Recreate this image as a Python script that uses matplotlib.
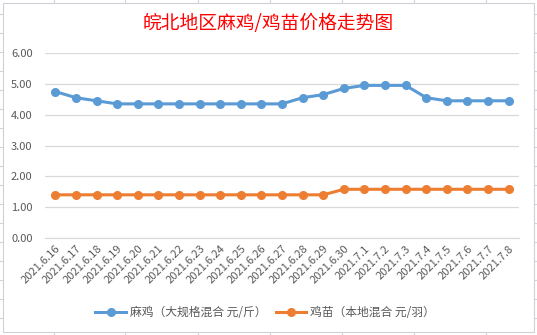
import matplotlib
matplotlib.use("Agg")
import matplotlib.pyplot as plt
from matplotlib.patches import Rectangle
from matplotlib.lines import Line2D

plt.rcParams['font.family'] = ['Noto Sans CJK SC', 'DejaVu Sans']

dates = ["2021.6.16", "2021.6.17", "2021.6.18", "2021.6.19", "2021.6.20", "2021.6.21",
         "2021.6.22", "2021.6.23", "2021.6.24", "2021.6.25", "2021.6.26", "2021.6.27",
         "2021.6.28", "2021.6.29", "2021.6.30", "2021.7.1", "2021.7.2", "2021.7.3",
         "2021.7.4", "2021.7.5", "2021.7.6", "2021.7.7", "2021.7.8"]
maji = [4.75, 4.55, 4.45, 4.35, 4.35, 4.35, 4.35, 4.35, 4.35, 4.35, 4.35, 4.35,
        4.55, 4.65, 4.85, 4.95, 4.95, 4.95, 4.55, 4.45, 4.45, 4.45, 4.45]
jimiao = [1.4, 1.4, 1.4, 1.4, 1.4, 1.4, 1.4, 1.4, 1.4, 1.4, 1.4, 1.4,
          1.4, 1.4, 1.58, 1.58, 1.58, 1.58, 1.58, 1.58, 1.58, 1.58, 1.58]
labels = ["麻鸡（大规格混合 元/斤）", "鸡苗（本地混合 元/羽）"]
title = "皖北地区麻鸡/鸡苗价格走势图"

W, H = 537, 335
fig = plt.figure(figsize=(W / 100, H / 100), dpi=100)

# spreadsheet cell lines peeking out around the chart
for x in [54, 125, 198, 270, 342, 414, 486]:
    fig.add_artist(Line2D([x / W, x / W], [0, 1], color="#D4D4DC", lw=0.8, zorder=-3))
for y in range(14, 335, 19):
    fig.add_artist(Line2D([0, 1], [1 - y / H, 1 - y / H], color="#D4D4DC", lw=0.8, zorder=-3))
fig.add_artist(Rectangle((3 / W, 3 / H), 531 / W, 329 / H, facecolor="white",
                         edgecolor="#D0D0D8", lw=0.8, zorder=-2))

ax = fig.add_axes([45 / W, 1 - 238 / H, 474 / W, 185 / H])
ax.set_facecolor("none")
x = list(range(len(dates)))
ax.plot(x, maji, color="#5B9BD5", lw=2.2, marker="o", ms=5.5, label=labels[0], zorder=3)
ax.plot(x, jimiao, color="#ED7D31", lw=2.2, marker="o", ms=5.5, label=labels[1], zorder=3)

ax.set_xlim(-0.5, len(dates) - 0.5)
ax.set_ylim(0, 6)
ax.set_yticks([0, 1, 2, 3, 4, 5, 6])
ax.set_yticklabels([f"{v:.2f}" for v in range(7)])
ax.set_xticks(x)
ax.set_xticklabels(dates, rotation=45, ha="right", rotation_mode="anchor")
ax.tick_params(axis="both", length=0, labelsize=8, labelcolor="#595959")
ax.tick_params(axis="y", pad=9)
ax.tick_params(axis="x", pad=4)
ax.grid(axis="y", color="#D9D9D9", lw=0.9)
ax.set_axisbelow(True)
for s in ["top", "right", "left"]:
    ax.spines[s].set_visible(False)
ax.spines["bottom"].set_color("#D9D9D9")

fig.text(268 / W, 1 - 24 / H, title, color="#FF0000", fontsize=13.5, fontweight="medium",
         ha="center", va="center")

fig.legend(loc="center", bbox_to_anchor=(265 / W, 1 - 313 / H), ncol=2, frameon=False,
           fontsize=8.5, labelcolor="#595959", handlelength=2.6, columnspacing=0.8,
           handletextpad=0.3)

fig.savefig("out.png", dpi=100)
